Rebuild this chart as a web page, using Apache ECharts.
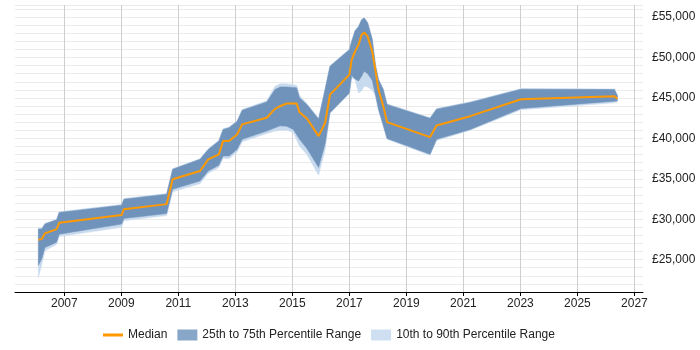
<!DOCTYPE html>
<html>
<head>
<meta charset="utf-8">
<script src="https://cdn.jsdelivr.net/npm/echarts@6/dist/echarts.min.js"></script>
<style>html,body{margin:0;padding:0;background:#fff;}#c{width:700px;height:350px;}</style>
</head>
<body>
<div id="c"></div>
<script>
var dates = [2006.09, 2006.21, 2006.32, 2006.73, 2006.82, 2009.01, 2009.09, 2010.59, 2010.80, 2011.76, 2012.05, 2012.42, 2012.57, 2012.78, 2013.06, 2013.24, 2014.10, 2014.39, 2014.57, 2014.80, 2015.03, 2015.15, 2015.25, 2015.51, 2015.92, 2016.15, 2016.32, 2017.00, 2017.08, 2017.20, 2017.32, 2017.43, 2017.52, 2017.64, 2017.80, 2017.92, 2018.02, 2018.19, 2018.32, 2019.83, 2020.06, 2021.24, 2023.02, 2026.30, 2026.40];
var p10 = [22800, 24400, 26100, 26900, 27850, 29000, 29800, 30450, 33400, 34400, 35700, 36400, 37500, 37500, 38300, 39600, 40600, 40900, 41000, 41000, 40750, 39800, 39050, 38000, 35450, 38640, 43100, 45550, 47480, 47270, 45600, 45900, 46450, 46350, 46000, 45200, 43500, 41500, 39900, 37900, 39750, 41000, 43550, 44400, 44500];
var p25 = [24300, 25100, 26500, 27150, 28150, 29400, 30100, 30700, 33700, 34740, 35970, 36670, 37820, 37820, 38640, 39880, 40900, 41320, 41550, 41500, 41110, 40450, 39900, 38740, 36400, 39350, 43170, 45630, 47770, 47360, 47100, 47700, 48300, 48000, 47200, 45300, 43600, 41600, 40000, 38030, 39880, 41110, 43700, 44600, 44650];
var median = [27450, 27550, 28250, 28780, 29560, 30510, 31250, 31870, 34950, 35970, 37410, 38030, 39670, 39670, 40490, 41730, 42550, 43660, 43980, 44310, 44310, 44310, 43240, 42460, 40280, 41930, 45420, 47890, 49740, 50760, 51590, 52820, 53100, 52610, 50800, 48300, 46040, 43980, 42010, 40160, 41600, 42750, 44850, 45210, 44890];
var p75 = [28800, 28800, 29400, 29930, 30840, 31740, 32480, 33100, 36180, 37410, 38640, 39670, 41110, 41320, 42100, 43490, 44500, 46040, 46370, 46370, 46300, 46250, 45020, 44190, 42400, 46100, 48910, 50970, 52000, 53300, 53800, 54670, 54880, 54300, 52300, 49000, 47300, 46040, 44190, 42480, 43620, 44450, 46080, 46040, 45300];
var p90 = [28900, 28900, 29500, 30000, 30920, 31820, 32560, 33180, 36260, 37490, 38720, 39750, 41190, 41400, 42180, 43570, 44650, 46450, 46750, 46750, 46650, 46550, 45350, 44300, 42480, 46180, 48990, 51050, 52080, 53380, 53880, 54750, 54960, 54380, 52380, 49080, 47380, 46120, 44270, 42560, 43700, 44530, 46160, 46120, 45380];
var yearTicks = [2007, 2009, 2011, 2013, 2015, 2017, 2019, 2021, 2023, 2025, 2027];
var salaryTicks = [25000, 30000, 35000, 40000, 45000, 50000, 55000];

function pairs(arr) { return dates.map(function (d, i) { return [d, arr[i]]; }); }
function band(lo, hi, color) {
  return function (params, api) {
    if (params.dataIndex !== 0) return null;
    var pts = [], i;
    for (i = 0; i < dates.length; i++) pts.push(api.coord([dates[i], hi[i]]));
    for (i = dates.length - 1; i >= 0; i--) pts.push(api.coord([dates[i], lo[i]]));
    return {type: 'polygon', shape: {points: pts}, style: {fill: color, stroke: color, lineWidth: 0.5}};
  };
}

var chart = echarts.init(document.getElementById('c'), null, {renderer: 'canvas'});
var font = 'Liberation Sans, Arial, sans-serif';
chart.setOption({
  animation: false,
  backgroundColor: '#fff',
  textStyle: {fontFamily: font},
  grid: {left: 15, right: 57, top: 5, bottom: 58, containLabel: false},
  xAxis: {
    type: 'value', min: 2005.27, max: 2027.3,
    axisLine: {show: true, lineStyle: {color: '#000', width: 1}},
    axisTick: {show: true, customValues: yearTicks, length: 4, lineStyle: {color: '#000'}},
    axisLabel: {customValues: yearTicks, color: '#222', fontSize: 12, fontFamily: font, margin: 6,
      formatter: function (v) { return String(Math.round(v)); }},
    splitLine: {show: true, lineStyle: {color: '#cfcfcf', width: 1}}
  },
  yAxis: [{
    type: 'value', min: 21000, max: 56500, position: 'right',
    axisLine: {show: false}, axisTick: {show: false, customValues: salaryTicks},
    axisLabel: {customValues: salaryTicks, color: '#222', fontSize: 12, fontFamily: font, margin: 9,
      formatter: function (v) { return '£' + v.toLocaleString('en-GB'); }},
    splitLine: {show: true, lineStyle: {color: '#cfcfcf', width: 1}}
  }, {
    type: 'value', min: 21000, max: 56500, interval: 1000, position: 'right',
    axisLine: {show: false}, axisTick: {show: false}, axisLabel: {show: false},
    splitLine: {show: true, lineStyle: {color: '#ebebeb', width: 1}}
  }],
  legend: {
    left: 103, top: 329, padding: 0, itemWidth: 20, itemHeight: 11, itemGap: 10,
    textStyle: {color: '#222', fontSize: 12, fontFamily: font},
    data: [
      {name: 'Median', icon: 'path://M0,0H20V3H0Z', itemStyle: {color: '#ff9900', borderWidth: 0}},
      {name: '25th to 75th Percentile Range', icon: 'rect', itemStyle: {color: '#88a6c8', borderWidth: 0}},
      {name: '10th to 90th Percentile Range', icon: 'rect', itemStyle: {color: '#cddff0', borderWidth: 0}}
    ]
  },
  series: [
    {type: 'custom', name: '10th to 90th Percentile Range', data: pairs(p90), encode: {x: 0, y: 1},
      itemStyle: {color: '#cddff0'}, renderItem: band(p10, p90, '#c8daee'), z: 2},
    {type: 'custom', name: '25th to 75th Percentile Range', data: pairs(p75), encode: {x: 0, y: 1},
      itemStyle: {color: '#88a6c8'}, renderItem: band(p25, p75, '#7093bb'), z: 3},
    {type: 'line', name: 'Median', data: pairs(median), symbol: 'none',
      itemStyle: {color: '#ff9900'}, lineStyle: {color: '#ff9900', width: 2}, z: 5}
  ]
});
</script>
</body>
</html>
